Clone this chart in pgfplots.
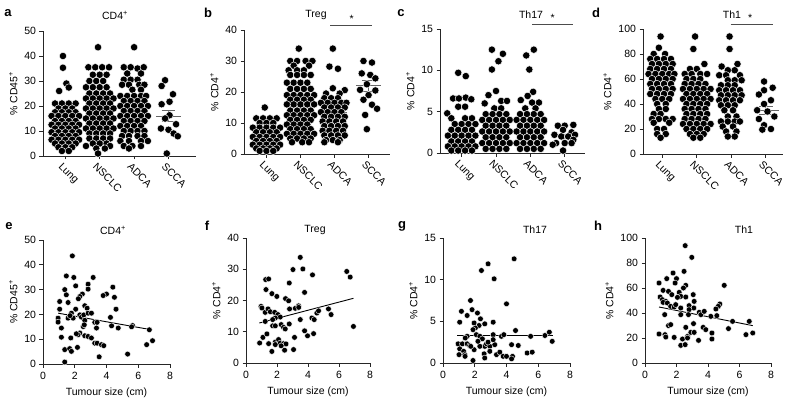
\documentclass[border=0pt]{standalone}
\usepackage{fontspec}
\setmainfont{Liberation Sans}
\usepackage{pgfplots}
\pgfplotsset{compat=1.18}
\newcommand{\fs}{\fontsize{10.5}{12}\selectfont}
\pgfplotsset{
 base/.style={scale only axis, anchor=south west, axis lines*=left, tick align=outside,
   major tick length=3.5pt, axis line style={line width=0.8pt, black!85},
   every tick/.style={line width=0.8pt, black!85},
   ticklabel style={font=\fs}, label style={font=\fs},
   /pgf/number format/assume math mode=true, clip=false, unbounded coords=jump},
 swarm/.style={base, xtick={0,1,2,3}, xticklabels={Lung,NSCLC,ADCA,SCCA},
   xticklabel style={rotate=-45, anchor=north west, xshift=-3pt}},
 scat/.style={base, xmin=0, xmax=8, xtick={0,2,...,8}, xlabel={Tumour size (cm)},
   xticklabel style={yshift=-1.5pt}, xlabel style={yshift=-1pt}},
 dots/.style={only marks, mark=*, mark size=3.7pt, mark options={fill=black, draw=white, line width=0.45pt}},
 sdots/.style={only marks, mark=*, mark size=2.9pt, mark options={fill=black, draw=white, line width=0.4pt}},
 meanl/.style={black!60, line width=0.9pt, mark=none},
 sig/.style={black!70, line width=0.8pt, mark=none},
}
\begin{document}
\begin{tikzpicture}
\useasboundingbox (0,0) rectangle (786pt,402pt);
% ---------------- a ----------------
\begin{axis}[swarm, at={(43pt,246pt)}, width=153pt, height=125pt, xmin=-0.65, xmax=3.8, ymin=0, ymax=50, ytick={0,10,...,50}, ylabel={\% CD45\textsuperscript{+}}]
\addplot[dots] table[row sep=\\, x expr=\thisrow{o}+0, y=y]{o y\\
-0.07 40\\ -0.07 35.3\\ 0.03 29\\ 0.1 27.4\\ -0.18 26\\
-0.3 21\\ -0.1 21\\ 0.1 21\\ 0.3 21\\
-0.2 19\\ 0 19\\ 0.2 19\\
-0.3 17.5\\ -0.1 17.5\\ 0.1 17.5\\ 0.3 17.5\\
-0.4 16\\ -0.2 16\\ 0 16\\ 0.2 16\\ 0.4 16\\
-0.3 14\\ -0.1 14\\ 0.1 14\\ 0.3 14\\
-0.4 12.5\\ -0.2 12.5\\ 0 12.5\\ 0.2 12.5\\ 0.4 12.5\\
-0.3 11\\ -0.1 11\\ 0.1 11\\ 0.3 11\\
-0.4 9.5\\ -0.2 9.5\\ 0 9.5\\ 0.2 9.5\\ 0.4 9.5\\
-0.3 8\\ -0.1 8\\ 0.1 8\\ 0.3 8\\
-0.4 6.5\\ -0.2 6.5\\ 0 6.5\\ 0.2 6.5\\ 0.4 6.5\\
-0.3 5\\ -0.1 5\\ 0.1 5\\ 0.3 5\\
-0.2 3.5\\ 0 3.5\\ 0.2 3.5\\
-0.1 2\\ 0.1 2\\
};
\addplot[dots] table[row sep=\\, x expr=\thisrow{o}+1, y=y]{o y\\
-0.05 43.5\\
-0.33 35.5\\ -0.13 35.5\\ 0.07 35.5\\ 0.27 35.5\\
-0.2 32.5\\ 0 32.5\\ 0.2 32.5\\
-0.3 30\\ -0.1 30\\ 0.1 30\\
-0.4 27.5\\ -0.2 27.5\\ 0 27.5\\ 0.2 27.5\\
-0.3 25\\ -0.1 25\\ 0.1 25\\ 0.3 25\\
-0.4 23\\ -0.2 23\\ 0 23\\ 0.2 23\\ 0.4 23\\
-0.3 21\\ -0.1 21\\ 0.1 21\\ 0.3 21\\
-0.4 19\\ -0.2 19\\ 0 19\\ 0.2 19\\ 0.4 19\\
-0.3 17\\ -0.1 17\\ 0.1 17\\ 0.3 17\\
-0.4 15\\ -0.2 15\\ 0 15\\ 0.2 15\\ 0.4 15\\
-0.3 13\\ -0.1 13\\ 0.1 13\\ 0.3 13\\
-0.4 11\\ -0.2 11\\ 0 11\\ 0.2 11\\ 0.4 11\\
-0.3 9\\ -0.1 9\\ 0.1 9\\ 0.3 9\\
-0.3 7\\ -0.1 7\\ 0.1 7\\ 0.3 7\\
-0.2 5\\ 0 5\\ 0.2 5\\
-0.4 4\\ 0.3 4\\
-0.1 3\\ 0.15 3\\
-0.05 1\\
};
\addplot[dots] table[row sep=\\, x expr=\thisrow{o}+2, y=y]{o y\\
0 43.5\\
-0.3 35.5\\ -0.1 35.5\\ 0.1 35\\ 0.28 35.5\\
-0.2 33\\ 0.2 33\\
-0.3 30.5\\ -0.1 30.5\\ 0.1 30.5\\
-0.35 28.5\\ -0.15 28.5\\ 0.15 28.5\\ 0.3 28.5\\
-0.05 26.5\\ 0.2 26.5\\
-0.4 24\\ -0.2 24\\ 0 24\\ 0.2 24\\ 0.35 24\\
-0.3 22\\ -0.1 22\\ 0.1 22\\ 0.3 22\\
-0.4 20\\ -0.2 20\\ 0 20\\ 0.2 20\\ 0.4 20\\
-0.3 18\\ -0.1 18\\ 0.1 18\\ 0.3 18\\
-0.4 16\\ -0.2 16\\ 0 16\\ 0.2 16\\ 0.4 16\\
-0.3 14\\ -0.1 14\\ 0.1 14\\ 0.3 14\\
-0.4 12\\ -0.2 12\\ 0 12\\ 0.2 12\\
-0.3 10\\ -0.1 10\\ 0.1 10\\ 0.3 10\\
-0.35 8\\ -0.15 8\\ 0.1 8\\ 0.3 8\\
-0.4 6\\ -0.15 6\\ 0.2 6\\ 0.4 6\\
-0.3 4\\ -0.05 4\\ 0.2 4\\
-0.15 3\\
};
\addplot[dots] table[row sep=\\, x expr=\thisrow{o}+3, y=y]{o y\\
-0.1 30.3\\ -0.2 28\\ 0.13 24.7\\ 0.03 21.7\\ -0.2 20.7\\ 0.03 16.3\\ -0.1 15\\
0.22 12.7\\ -0.22 11\\ 0 10.5\\ 0.15 9\\ 0.27 7.9\\ -0.05 1\\
};
\addplot[meanl] coordinates {(-0.37,11.5) (0.37,11.5) (nan,nan) (0,10.5) (0,12.5) (nan,nan) (-0.2,10.5) (0.2,10.5) (nan,nan) (-0.2,12.5) (0.2,12.5)};
\addplot[meanl] coordinates {(0.63,18.5) (1.37,18.5) (nan,nan) (1,17.5) (1,19.5) (nan,nan) (0.8,17.5) (1.2,17.5) (nan,nan) (0.8,19.5) (1.2,19.5)};
\addplot[meanl] coordinates {(1.63,19.2) (2.37,19.2) (nan,nan) (2,17.9) (2,20.5) (nan,nan) (1.8,17.9) (2.2,17.9) (nan,nan) (1.8,20.5) (2.2,20.5)};
\addplot[meanl] coordinates {(2.63,16) (3.37,16) (nan,nan) (3,13.7) (3,18.3) (nan,nan) (2.8,13.7) (3.2,13.7) (nan,nan) (2.8,18.3) (3.2,18.3)};
\end{axis}
% ---------------- b ----------------
\begin{axis}[swarm, at={(244pt,248pt)}, width=146pt, height=124pt, xmin=-0.66, xmax=3.63, ymin=0, ymax=40, ytick={0,10,...,40}, ylabel={\% CD4\textsuperscript{+}}]
\addplot[dots] table[row sep=\\, x expr=\thisrow{o}+0, y=y]{o y\\
-0.05 15\\
-0.3 11.5\\ -0.1 11.5\\ 0.1 11.5\\ 0.3 11.5\\
-0.2 10\\ 0 10\\ 0.2 10\\
-0.4 8.5\\ -0.2 8.5\\ 0 8.5\\ 0.2 8.5\\ 0.4 8.5\\
-0.3 7\\ -0.1 7\\ 0.1 7\\ 0.3 7\\
-0.4 5.5\\ -0.2 5.5\\ 0 5.5\\ 0.2 5.5\\ 0.4 5.5\\
-0.3 4.2\\ -0.1 4.2\\ 0.1 4.2\\ 0.3 4.2\\
-0.4 3\\ -0.2 3\\ 0 3\\ 0.2 3\\ 0.4 3\\
-0.3 1.8\\ -0.1 1.8\\ 0.1 1.8\\ 0.3 1.8\\
-0.2 1\\ 0 1\\ 0.2 1\\
};
\addplot[dots] table[row sep=\\, x expr=\thisrow{o}+1, y=y]{o y\\
-0.05 34\\
-0.3 30\\ -0.1 30\\ 0.15 30\\ 0.35 30\\
-0.2 28.5\\ 0.25 28.5\\
-0.35 27\\ -0.1 27\\ 0.1 27\\
-0.3 25.5\\ -0.1 25.5\\ 0.1 25.5\\ 0.3 25.5\\
-0.4 23\\ -0.2 23\\ 0 23\\ 0.2 23\\
-0.3 21\\ -0.1 21\\ 0.1 21\\ 0.3 21\\
-0.4 19\\ -0.2 19\\ 0 19\\ 0.2 19\\ 0.4 19\\
-0.3 17.5\\ -0.1 17.5\\ 0.1 17.5\\ 0.3 17.5\\
-0.4 16\\ -0.2 16\\ 0 16\\ 0.2 16\\ 0.4 16\\
-0.3 14\\ -0.1 14\\ 0.1 14\\ 0.3 14\\
-0.4 12.5\\ -0.2 12.5\\ 0 12.5\\ 0.2 12.5\\ 0.4 12.5\\
-0.3 11\\ -0.1 11\\ 0.1 11\\ 0.3 11\\
-0.4 9.5\\ -0.2 9.5\\ 0 9.5\\ 0.2 9.5\\
-0.3 8\\ -0.1 8\\ 0.1 8\\ 0.3 8\\
-0.4 6.5\\ -0.2 6.5\\ 0 6.5\\ 0.2 6.5\\ 0.4 6.5\\
-0.3 5\\ -0.1 5\\ 0.1 5\\ 0.3 5\\
-0.25 3.8\\ 0.05 3.8\\ 0.25 3.8\\
};
\addplot[dots] table[row sep=\\, x expr=\thisrow{o}+2, y=y]{o y\\
-0.05 34\\ -0.15 28.2\\ 0.1 27.5\\ -0.05 21.2\\ 0.3 20.6\\ 0.15 19.5\\ -0.25 19.5\\
-0.3 18\\ -0.1 18\\ 0.1 18\\
-0.4 16.5\\ -0.2 16.5\\ 0 16.5\\ 0.2 16.5\\ 0.35 16.5\\
-0.3 15\\ -0.1 15\\ 0.1 15\\ 0.3 15\\
-0.4 13.5\\ -0.2 13.5\\ 0 13.5\\ 0.2 13.5\\
-0.3 12\\ -0.1 12\\ 0.1 12\\ 0.3 12\\
-0.35 10.5\\ -0.15 10.5\\ 0.05 10.5\\ 0.25 10.5\\
-0.3 9\\ -0.1 9\\ 0.1 9\\ 0.3 9\\
-0.35 7.5\\ -0.15 7.5\\ 0.05 7.5\\ 0.25 7.5\\
-0.3 6\\ -0.1 6\\ 0.1 6\\ 0.3 6\\
-0.25 4.5\\ -0.05 4.5\\ 0.15 4.5\\
-0.3 3.8\\ 0.1 3.8\\
};
\addplot[dots] table[row sep=\\, x expr=\thisrow{o}+3, y=y]{o y\\
-0.15 30\\ 0.1 29.5\\ -0.2 26\\ 0.05 25.5\\ 0.2 24.4\\ -0.05 22.5\\ -0.25 20.7\\
0.2 20.5\\ 0 19\\ -0.15 17.5\\ 0.1 15.9\\ 0.25 14.6\\ -0.1 12.6\\ -0.05 8\\
};
\addplot[meanl] coordinates {(-0.37,6.2) (0.37,6.2) (nan,nan) (0,5.7) (0,6.7) (nan,nan) (-0.2,5.7) (0.2,5.7) (nan,nan) (-0.2,6.7) (0.2,6.7)};
\addplot[meanl] coordinates {(0.63,15.3) (1.37,15.3) (nan,nan) (1,14.4) (1,16.2) (nan,nan) (0.8,14.4) (1.2,14.4) (nan,nan) (0.8,16.2) (1.2,16.2)};
\addplot[meanl] coordinates {(1.63,13.4) (2.37,13.4) (nan,nan) (2,12.5) (2,14.3) (nan,nan) (1.8,12.5) (2.2,12.5) (nan,nan) (1.8,14.3) (2.2,14.3)};
\addplot[meanl] coordinates {(2.63,22) (3.37,22) (nan,nan) (3,20.3) (3,23.7) (nan,nan) (2.8,20.3) (3.2,20.3) (nan,nan) (2.8,23.7) (3.2,23.7)};
\addplot[sig] coordinates {(1.88,41.6) (3.09,41.6)};
\node[font=\fs] at (axis cs:2.5,43.6) {*};
\end{axis}
% ---------------- c ----------------
\begin{axis}[swarm, at={(440pt,249pt)}, width=145pt, height=124pt, xmin=-0.63, xmax=3.59, ymin=0, ymax=15, ytick={0,5,10,15}, ylabel={\% CD4\textsuperscript{+}}]
\addplot[dots] table[row sep=\\, x expr=\thisrow{o}+0, y=y]{o y\\
-0.1 9.7\\ 0.12 9.3\\
-0.25 6.6\\ -0.08 6.6\\ 0.12 6.7\\ 0.28 6.5\\
-0.1 5.6\\ 0.1 5.6\\ -0.42 4.8\\
-0.3 4.2\\ 0.1 4.2\\ 0.3 4.2\\
-0.2 3.5\\ 0 3.5\\ 0.2 3.5\\ 0.4 3.5\\
-0.3 2.8\\ -0.1 2.8\\ 0.1 2.8\\ 0.3 2.8\\
-0.4 2.1\\ -0.2 2.1\\ 0 2.1\\ 0.2 2.1\\ 0.4 2.1\\
-0.3 1.4\\ -0.1 1.4\\ 0.1 1.4\\ 0.3 1.4\\
-0.4 0.8\\ -0.2 0.8\\ 0 0.8\\ 0.2 0.8\\ 0.4 0.8\\
-0.3 0.3\\ -0.1 0.3\\ 0.1 0.3\\ 0.3 0.3\\
};
\addplot[dots] table[row sep=\\, x expr=\thisrow{o}+1, y=y]{o y\\
-0.12 12.5\\ 0.2 12.0\\ 0.07 11.1\\ -0.12 10.1\\ 0 7.5\\ -0.22 7.0\\
0.15 6.3\\ 0.32 6.3\\ -0.33 6.0\\ -0.05 5.4\\ 0.15 5.4\\
-0.3 4.7\\ -0.1 4.7\\ 0.1 4.7\\ 0.3 4.7\\
-0.4 4\\ -0.2 4\\ 0 4\\ 0.2 4\\ 0.4 4\\
-0.3 3.3\\ -0.1 3.3\\ 0.1 3.3\\ 0.3 3.3\\
-0.4 2.6\\ -0.2 2.6\\ 0 2.6\\ 0.2 2.6\\ 0.4 2.6\\
-0.3 1.9\\ -0.1 1.9\\ 0.1 1.9\\ 0.3 1.9\\
-0.4 1.2\\ -0.2 1.2\\ 0 1.2\\ 0.2 1.2\\ 0.4 1.2\\
-0.3 0.5\\ -0.1 0.5\\ 0.1 0.5\\ 0.3 0.5\\
};
\addplot[dots] table[row sep=\\, x expr=\thisrow{o}+2, y=y]{o y\\
0.1 12.5\\ -0.12 11.8\\ -0.03 10.1\\ 0.08 7.4\\ -0.08 6.9\\ -0.28 6.4\\
0.25 6.1\\ 0.05 6.1\\ -0.15 5.4\\ 0.15 5.4\\
-0.3 4.7\\ -0.1 4.7\\ 0.1 4.7\\ 0.3 4.7\\
-0.4 4\\ -0.2 4\\ 0 4\\ 0.2 4\\ 0.4 4\\
-0.3 3.3\\ -0.1 3.3\\ 0.1 3.3\\ 0.3 3.3\\
-0.4 2.6\\ -0.2 2.6\\ 0 2.6\\ 0.2 2.6\\ 0.4 2.6\\
-0.3 1.9\\ -0.1 1.9\\ 0.1 1.9\\ 0.3 1.9\\
-0.4 1.2\\ -0.2 1.2\\ 0 1.2\\ 0.2 1.2\\ 0.4 1.2\\
-0.3 0.5\\ -0.1 0.5\\ 0.1 0.5\\ 0.3 0.5\\
};
\addplot[dots] table[row sep=\\, x expr=\thisrow{o}+3, y=y]{o y\\
0.25 3.4\\ -0.2 3.3\\ 0 3.3\\ -0.05 2.8\\ 0.2 2.5\\ -0.3 2.2\\ 0.3 2.2\\
-0.1 2.0\\ 0.1 2.0\\ 0.25 1.6\\ -0.25 1.2\\ 0 1.2\\ 0.2 1.2\\ -0.35 1.0\\ -0.05 0.3\\
};
\addplot[meanl] coordinates {(-0.37,2.5) (0.37,2.5) (nan,nan) (0,2.2) (0,2.8) (nan,nan) (-0.2,2.2) (0.2,2.2) (nan,nan) (-0.2,2.8) (0.2,2.8)};
\addplot[meanl] coordinates {(0.63,3.2) (1.37,3.2) (nan,nan) (1,2.9) (1,3.5) (nan,nan) (0.8,2.9) (1.2,2.9) (nan,nan) (0.8,3.5) (1.2,3.5)};
\addplot[meanl] coordinates {(1.63,3.55) (2.37,3.55) (nan,nan) (2,3.2) (2,3.9) (nan,nan) (1.8,3.2) (2.2,3.2) (nan,nan) (1.8,3.9) (2.2,3.9)};
\addplot[meanl] coordinates {(2.63,2.0) (3.37,2.0) (nan,nan) (3,1.8) (3,2.2) (nan,nan) (2.8,1.8) (3.2,1.8) (nan,nan) (2.8,2.2) (3.2,2.2)};
\addplot[sig] coordinates {(2.05,15.6) (3.25,15.6)};
\node[font=\fs] at (axis cs:2.65,16.35) {*};
\end{axis}
% ---------------- d ----------------
\begin{axis}[swarm, at={(643pt,248pt)}, width=140pt, height=125pt, xmin=-0.56, xmax=3.5, ymin=0, ymax=100, ytick={0,20,...,100}, ylabel={\% CD4\textsuperscript{+}}]
\addplot[dots] table[row sep=\\, x expr=\thisrow{o}+0, y=y]{o y\\
-0.05 94\\ -0.1 85\\ 0.08 80\\ -0.25 80\\
-0.35 76\\ -0.15 76\\ 0.05 76\\ 0.25 76\\
-0.3 72\\ -0.1 72\\ 0.1 72\\ 0.3 72\\
-0.35 68\\ -0.15 68\\ 0.05 68\\ 0.25 68\\
-0.4 64\\ -0.2 64\\ 0 64\\ 0.2 64\\ 0.35 64\\
-0.3 60\\ -0.1 60\\ 0.1 60\\ 0.3 60\\
-0.35 56\\ -0.15 56\\ 0.05 56\\ 0.25 56\\
-0.3 52\\ -0.1 52\\ 0.1 52\\ 0.3 52\\
-0.35 48\\ -0.15 48\\ 0.05 48\\ 0.25 48\\
-0.2 44\\ 0 44\\ 0.2 44\\
-0.15 40\\ 0.1 40\\ -0.1 36\\ 0.1 36\\ -0.25 32\\ -0.05 32\\
-0.3 28\\ -0.1 28\\ 0.1 28\\ 0.3 28\\
-0.25 25\\ 0.2 25\\ -0.15 20\\ 0.05 20\\ -0.15 16\\ 0.1 16\\ -0.05 13\\
};
\addplot[dots] table[row sep=\\, x expr=\thisrow{o}+1, y=y]{o y\\
-0.05 94\\ -0.1 84\\ 0.22 72\\ -0.2 68\\ 0 68\\
-0.35 64\\ -0.15 64\\ 0.1 64\\ 0.3 64\\
-0.3 60\\ -0.1 60\\ 0.1 60\\
-0.35 56\\ -0.15 56\\ 0.05 56\\ 0.25 56\\
-0.4 52\\ -0.2 52\\ 0 52\\ 0.2 52\\ 0.4 52\\
-0.3 48\\ -0.1 48\\ 0.1 48\\ 0.3 48\\
-0.4 44\\ -0.2 44\\ 0 44\\ 0.2 44\\ 0.4 44\\
-0.3 40\\ -0.1 40\\ 0.1 40\\ 0.3 40\\
-0.35 36\\ -0.15 36\\ 0.05 36\\ 0.25 36\\
-0.3 32\\ -0.1 32\\ 0.1 32\\ 0.3 32\\
-0.35 28\\ -0.15 28\\ 0.05 28\\ 0.25 28\\
-0.4 24\\ -0.2 24\\ 0 24\\ 0.2 24\\ 0.4 24\\
-0.3 20\\ -0.1 20\\ 0.1 20\\ 0.3 20\\
-0.2 16\\ 0 16\\ 0.2 16\\ -0.1 13\\ 0.1 13\\
};
\addplot[dots] table[row sep=\\, x expr=\thisrow{o}+2, y=y]{o y\\
-0.05 94\\ -0.05 84\\ 0.18 72\\ -0.28 70\\ -0.1 67\\ 0.1 67\\
-0.35 63\\ -0.15 63\\ 0.25 63\\
-0.1 59\\ 0.1 59\\ 0.3 59\\
-0.3 55\\ -0.1 55\\ 0.1 55\\
-0.35 51\\ -0.15 51\\ 0.05 51\\ 0.25 51\\
-0.3 47\\ -0.1 47\\ 0.1 47\\ 0.3 47\\
-0.35 43\\ -0.15 43\\ 0.05 43\\ 0.25 43\\
-0.3 39\\ -0.1 39\\ 0.1 39\\
-0.2 35\\ 0.05 35\\ -0.1 30\\ 0.15 30\\
-0.3 26\\ -0.1 26\\ 0.1 26\\ 0.25 26\\
-0.25 22\\ 0.05 22\\ -0.15 18\\ 0.15 18\\ -0.1 14\\ 0.1 14\\
};
\addplot[dots] table[row sep=\\, x expr=\thisrow{o}+3, y=y]{o y\\
-0.05 58\\ 0.2 53\\ -0.05 51\\ -0.2 47.6\\ 0.15 43\\ -0.05 40\\ -0.25 35\\
0.05 34\\ 0.25 30\\ -0.2 28\\ -0.05 23\\ 0.15 20\\ -0.1 19.5\\
};
\addplot[meanl] coordinates {(-0.37,53.2) (0.37,53.2) (nan,nan) (0,51) (0,55.4) (nan,nan) (-0.2,51) (0.2,51) (nan,nan) (-0.2,55.4) (0.2,55.4)};
\addplot[meanl] coordinates {(0.63,43) (1.37,43) (nan,nan) (1,41) (1,45) (nan,nan) (0.8,41) (1.2,41) (nan,nan) (0.8,45) (1.2,45)};
\addplot[meanl] coordinates {(1.63,45.2) (2.37,45.2) (nan,nan) (2,42.8) (2,47.6) (nan,nan) (1.8,42.8) (2.2,42.8) (nan,nan) (1.8,47.6) (2.2,47.6)};
\addplot[meanl] coordinates {(2.63,35) (3.37,35) (nan,nan) (3,31.8) (3,38.2) (nan,nan) (2.8,31.8) (3.2,31.8) (nan,nan) (2.8,38.2) (3.2,38.2)};
\addplot[sig] coordinates {(1.98,103.7) (3.2,103.7)};
\node[font=\fs] at (axis cs:2.55,108.6) {*};
\end{axis}
% ---------------- e ----------------
\begin{axis}[scat, at={(43pt,38pt)}, width=127pt, height=124pt, ymin=0, ymax=50, ytick={0,10,...,50}, ylabel={\% CD45\textsuperscript{+}}]
\addplot[sdots] table[row sep=\\]{x y\\
1.85 43.6\\ 1.47 35.5\\ 1.94 34.9\\ 3.16 34.9\\ 1.37 30.0\\ 2.84 32.2\\ 2.84 30.2\\ 2.06 31.5\\
2.48 28.2\\ 2.32 27.2\\ 2.23 26.3\\ 1.47 27.9\\ 1.05 25.2\\ 1.58 24.8\\ 2.63 23.5\\ 2.78 22.5\\
1.05 22.1\\ 2.06 22.1\\ 4.0 28.2\\ 3.79 27.6\\ 4.4 31.0\\ 4.5 26.9\\ 4.6 22.1\\ 0.95 18.5\\
0.95 16.9\\ 1.58 18.5\\ 1.79 20.5\\ 1.9 18.5\\ 2.32 19.8\\ 2.42 18.9\\ 2.57 19.8\\ 2.84 20.5\\
3.05 20.5\\ 2.63 17.6\\ 3.26 16.8\\ 3.41 16.8\\ 3.37 14.5\\ 2.53 15.1\\ 2.32 12.5\\ 2.21 11.8\\
2.63 11.4\\ 2.84 11.1\\ 3.05 10.5\\ 1.16 14.5\\ 1.16 10.8\\ 1.75 10.5\\ 1.37 5.8\\ 1.68 6.2\\
1.79 5.1\\ 2.17 6.7\\ 3.26 8.4\\ 3.41 8.4\\ 3.68 7.8\\ 3.83 7.4\\ 3.54 2.9\\ 1.37 0.8\\
4.32 15.4\\ 4.74 14.5\\ 5.64 15.5\\ 5.58 15.0\\ 6.7 13.8\\ 6.53 7.8\\ 6.9 9.4\\ 5.33 4.0\\
4.25 18.8\\ 1.7 19.5\\ 2.1 12.2\\ 2.6 15.8\\
};
\addplot[black, line width=0.9pt, mark=none] coordinates {(0.95,20.5) (6.84,13.8)};
\end{axis}
% ---------------- f ----------------
\begin{axis}[scat, at={(246pt,39pt)}, width=124pt, height=125pt, ymin=0, ymax=40, ytick={0,10,...,40}, ylabel={\% CD4\textsuperscript{+}}]
\addplot[sdots] table[row sep=\\]{x y\\
3.5 33.8\\ 3.03 29.9\\ 3.67 30.1\\ 4.29 28.2\\ 6.5 29.3\\ 6.72 27.5\\ 1.27 26.7\\ 1.46 26.9\\
2.79 25.6\\ 1.29 23.5\\ 1.67 22.2\\ 1.99 21.3\\ 2.55 20.6\\ 2.75 19.9\\ 3.78 22.6\\ 0.97 18.1\\
1.03 17.6\\ 1.24 16.2\\ 1.42 17.3\\ 1.57 16.4\\ 1.85 16.2\\ 2.06 15.5\\ 2.21 14.7\\ 1.89 14.4\\
2.81 17.3\\ 3.18 17.5\\ 3.39 18.3\\ 1.72 13.9\\ 1.24 13.3\\ 1.72 11.9\\ 1.89 11.9\\ 2.27 12.3\\
2.42 11.4\\ 2.53 10.9\\ 2.79 12.5\\ 3.5 13.9\\ 4.25 14.4\\ 4.4 13.9\\ 4.57 16.0\\ 4.68 16.7\\
5.32 17.3\\ 5.49 15.5\\ 3.78 10.3\\ 3.97 8.7\\ 4.36 9.4\\ 3.13 8.2\\ 1.09 8.2\\ 1.35 9.3\\
0.88 6.4\\ 1.46 6.2\\ 1.89 6.7\\ 2.1 7.5\\ 2.21 6.4\\ 2.42 6.2\\ 2.58 6.1\\ 2.27 5.5\\
1.89 5.9\\ 1.67 3.7\\ 2.49 4.1\\ 3.07 4.3\\ 6.93 11.7\\ 3.4 17.8\\
};
\addplot[black, line width=0.9pt, mark=none] coordinates {(0.86,12.8) (6.93,20.7)};
\end{axis}
% ---------------- g ----------------
\begin{axis}[scat, at={(443pt,39pt)}, width=127pt, height=125pt, ymin=0, ymax=15, ytick={0,5,10,15}, ylabel={\% CD4\textsuperscript{+}}]
\addplot[sdots] table[row sep=\\]{x y\\
4.48 12.5\\ 2.84 11.9\\ 2.42 11.1\\ 3.22 10.1\\ 4.0 7.1\\ 1.73 7.5\\ 1.16 6.2\\ 1.83 6.4\\
2.17 6.0\\ 1.52 5.7\\ 1.05 4.9\\ 1.96 4.8\\ 2.27 4.5\\ 2.36 5.3\\ 2.63 4.7\\ 3.16 4.9\\
2.04 4.2\\ 1.89 4.0\\ 2.1 3.4\\ 2.32 3.2\\ 2.48 2.9\\ 1.52 3.2\\ 3.16 3.4\\ 3.68 3.2\\
3.83 3.4\\ 4.57 3.9\\ 5.52 3.2\\ 6.42 3.3\\ 6.7 3.7\\ 6.88 2.6\\ 5.3 1.2\\ 5.62 1.3\\
0.95 2.3\\ 1.22 2.3\\ 1.52 2.3\\ 1.68 2.1\\ 1.05 1.7\\ 1.3 1.4\\ 1.37 1.0\\ 1.01 1.0\\
1.39 0.8\\ 1.96 1.6\\ 1.89 0.3\\ 2.63 2.0\\ 2.74 2.3\\ 2.95 2.0\\ 2.84 2.5\\ 2.59 1.1\\
2.63 0.6\\ 2.95 1.4\\ 3.37 1.0\\ 3.58 1.3\\ 3.79 0.8\\ 4.0 0.8\\ 4.32 2.2\\ 4.38 0.8\\
4.32 0.5\\ 4.74 2.1\\ 3.26 2.2\\ 1.75 2.0\\ 2.32 2.0\\ 3.16 2.8\\ 2.2 2.6\\ 1.4 3.0\\
};
\addplot[black, line width=0.9pt, mark=none] coordinates {(0.9,3.25) (6.9,3.25)};
\end{axis}
% ---------------- h ----------------
\begin{axis}[scat, at={(645pt,39pt)}, width=126pt, height=125pt, ymin=0, ymax=100, ytick={0,20,...,100}, ylabel={\% CD4\textsuperscript{+}}]
\addplot[sdots] table[row sep=\\]{x y\\
2.55 93.9\\ 2.97 84.5\\ 2.48 73.3\\ 1.78 72\\ 2.0 67.5\\ 1.38 67.5\\ 0.89 64.0\\ 1.91 64.0\\
2.59 62.1\\ 2.44 60\\ 5.03 62.1\\ 1.15 58.1\\ 1.49 57.3\\ 1.7 54.7\\ 2.17 56.5\\ 2.27 53.3\\
3.06 54.7\\ 0.96 52.8\\ 1.1 50.7\\ 1.32 49.3\\ 2.06 52.5\\ 2.59 52.8\\ 3.12 49.3\\ 1.15 48.5\\
1.42 48.0\\ 1.63 45.3\\ 1.85 44.8\\ 1.95 46.7\\ 2.27 44\\ 2.8 45.9\\ 3.1 44\\ 3.44 40.5\\
3.55 38.7\\ 3.76 41.3\\ 4.75 47.2\\ 4.65 45.3\\ 4.5 43.2\\ 4.56 37.9\\ 4.18 37.3\\ 1.25 38.7\\
2.27 38.7\\ 2.8 42.7\\ 2.76 38.7\\ 1.49 29.9\\ 1.63 30.7\\ 2.59 28.5\\ 3.08 31.5\\ 3.69 28.5\\
3.86 26.7\\ 5.3 27.5\\ 6.62 33.3\\ 5.56 33.3\\ 0.89 23.2\\ 1.27 22.7\\ 1.32 20.8\\ 1.85 20.5\\
2.38 19.2\\ 2.7 21.3\\ 2.91 24.5\\ 3.12 24.5\\ 3.4 18.1\\ 4.25 24\\ 4.25 19.2\\ 2.27 14.1\\
2.55 14.7\\ 2.7 20\\ 6.41 22.7\\ 6.84 24\\
};
\addplot[black, line width=0.9pt, mark=none] coordinates {(0.89,44.8) (6.84,29.9)};
\end{axis}
% ---------------- labels ----------------
\begin{scope}[font=\bfseries\fontsize{13}{15}\selectfont]
\node at (8pt,389pt) {a};
\node at (208pt,389pt) {b};
\node at (401pt,389pt) {c};
\node at (596pt,389pt) {d};
\node at (9pt,176pt) {e};
\node at (207pt,176pt) {f};
\node at (402pt,176pt) {g};
\node at (598pt,176pt) {h};
\end{scope}
\begin{scope}[font=\fs]
\node at (115pt,387pt) {CD4\textsuperscript{+}};
\node at (316pt,387pt) {Treg};
\node at (531pt,387pt) {Th17};
\node at (732pt,387pt) {Th1};
\node at (113pt,172pt) {CD4\textsuperscript{+}};
\node at (315pt,172pt) {Treg};
\node at (535pt,172pt) {Th17};
\node at (744pt,172pt) {Th1};
\end{scope}
\end{tikzpicture}
\end{document}
